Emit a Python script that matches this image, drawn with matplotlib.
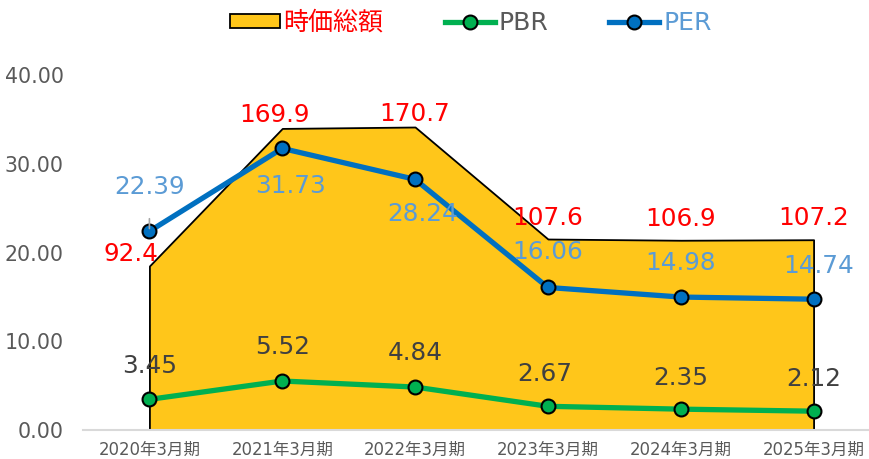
import matplotlib.pyplot as plt
from matplotlib.lines import Line2D
from matplotlib.patches import Patch

plt.rcParams['font.family'] = ['DejaVu Sans', 'Noto Sans CJK JP']

# データ
periods = ['2020年3月期', '2021年3月期', '2022年3月期', '2023年3月期', '2024年3月期', '2025年3月期']
market_cap = [92.4, 169.9, 170.7, 107.6, 106.9, 107.2]   # 時価総額 (右軸, 非表示)
pbr = [3.45, 5.52, 4.84, 2.67, 2.35, 2.12]
per = [22.39, 31.73, 28.24, 16.06, 14.98, 14.74]

# ラベル位置 (ピクセルオフセット)
per_off = [(0, 44), (8, -38), (8, -35), (0, 35), (0, 34), (5, 33)]
cap_off = [(-18, 12), (-8, 13), (0, 13), (0, 21), (0, 21), (0, 22)]
pbr_off = [(0, 33), (0, 34), (0, 34), (-3, 32), (0, 31), (0, 32)]

x = list(range(len(periods)))

fig = plt.figure(figsize=(8.7, 4.59), dpi=100)
ax = fig.add_axes([83 / 870, 1 - 430 / 459, 797 / 870, 355 / 459])
ax2 = ax.twinx()

# 時価総額エリア
ax2.fill_between(x, market_cap, 0, facecolor='#FFC61A', edgecolor='black', linewidth=1.3)
ax2.set_ylim(0, 200)
ax2.set_yticks([])
for s in ax2.spines.values():
    s.set_visible(False)

ax.set_zorder(ax2.get_zorder() + 1)
ax.patch.set_visible(False)

ax.plot(x, pbr, color='#00B050', linewidth=3.8, marker='o', markersize=10,
        markerfacecolor='#00B050', markeredgecolor='black', markeredgewidth=1.5)
ax.plot(x, per, color='#0070C0', linewidth=3.8, marker='o', markersize=10,
        markerfacecolor='#0070C0', markeredgecolor='black', markeredgewidth=1.5)

ax.set_xlim(-0.5, 5.5)
ax.set_ylim(0, 40)
ax.set_yticks([0, 10, 20, 30, 40])
ax.set_yticklabels([f'{v:.2f}' for v in [0, 10, 20, 30, 40]])
ax.set_xticks(x)
ax.set_xticklabels(periods)
ax.tick_params(axis='y', length=0, labelsize=14.8, labelcolor='#595959', pad=14)
ax.tick_params(axis='x', length=0, labelsize=11.9, labelcolor='#595959', pad=8)
for s in ['top', 'right', 'left']:
    ax.spines[s].set_visible(False)
ax.spines['bottom'].set_color('#D9D9D9')
ax.spines['bottom'].set_linewidth(1.5)

# データラベル
for i in x:
    ax2.annotate(f'{market_cap[i]:.1f}', (i, market_cap[i]), xytext=cap_off[i],
                 textcoords='offset pixels', ha='center', va='center',
                 fontsize=17.8, color='#FF0000')
    ax.annotate(f'{pbr[i]:.2f}', (i, pbr[i]), xytext=pbr_off[i],
                textcoords='offset pixels', ha='center', va='center',
                fontsize=17.8, color='#404040')
    arrow = dict(arrowstyle='-', color='#A6A6A6', lw=1.2, shrinkA=12, shrinkB=2) if i == 0 else None
    ax.annotate(f'{per[i]:.2f}', (i, per[i]), xytext=per_off[i],
                textcoords='offset pixels', ha='center', va='center',
                fontsize=17.8, color='#5B9BD5', arrowprops=arrow)

# 凡例
handles = [
    Patch(facecolor='#FFC61A', edgecolor='black', linewidth=1.3),
    Line2D([0], [0], color='#00B050', linewidth=3.8, marker='o', markersize=10,
           markerfacecolor='#00B050', markeredgecolor='black', markeredgewidth=1.5),
    Line2D([0], [0], color='#0070C0', linewidth=3.8, marker='o', markersize=10,
           markerfacecolor='#0070C0', markeredgecolor='black', markeredgewidth=1.5),
]
leg = fig.legend(handles, ['時価総額', 'PBR', 'PER'], loc='upper center',
                 bbox_to_anchor=(0.541, 1.025), ncol=3, frameon=False, fontsize=18,
                 handlelength=2.0, handleheight=0.45, columnspacing=2.45, handletextpad=0.15)
for t, c in zip(leg.get_texts(), ['#FF0000', '#595959', '#5B9BD5']):
    t.set_color(c)

fig.savefig('out.png', dpi=100)
